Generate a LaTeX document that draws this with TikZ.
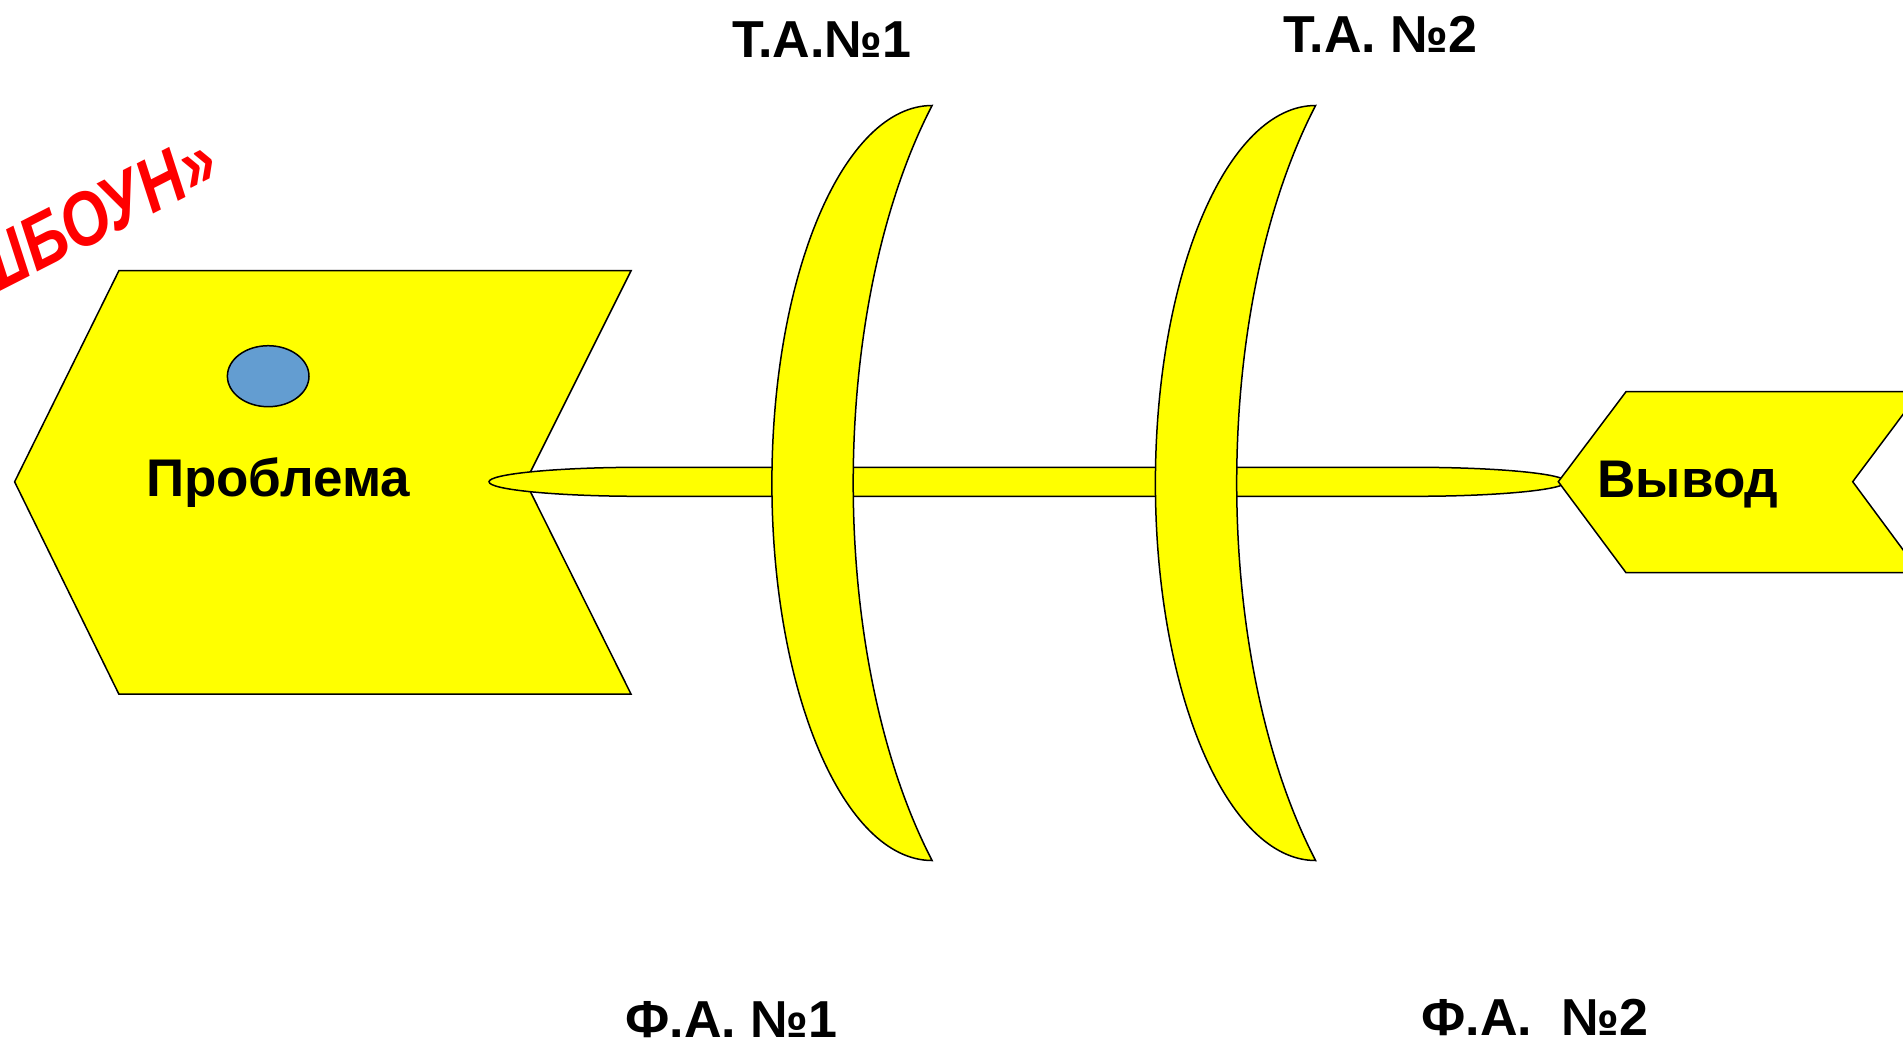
\documentclass[tikz,border=0pt]{standalone}
\usepackage{fontspec}
\setmainfont{Liberation Sans}
\usepackage{graphicx}
\usepackage{tikz}
\usetikzlibrary{positioning}
\definecolor{boneyellow}{RGB}{255,255,0}
\definecolor{eyeblue}{RGB}{99,157,209}
\definecolor{titlered}{RGB}{255,0,0}

\begin{document}
\begin{tikzpicture}[
  x=1pt, y=-1pt,
  bone/.style={draw=black, line width=1.5pt, fill=boneyellow, line join=miter},
  eye/.style={draw=black, line width=1.5pt, fill=eyeblue},
  bigword/.style={font=\fontsize{53}{60}\selectfont\bfseries, anchor=base, inner sep=0pt},
  armlabel/.style={font=\fontsize{52}{60}\selectfont\bfseries, anchor=base, inner sep=0pt},
]
  \useasboundingbox (0,0) rectangle (1903,1042);
  \clip (0,0) rectangle (1903,1042);

  % title, cut by the page edge
  \node[font=\fontsize{62}{70}\selectfont\bfseries\itshape, text=titlered, rotate=27,
        anchor=base east, inner sep=0pt] (title) at (223,178)
        {\scalebox{1}[1.22]{«ФИШБОУН»}};

  % head: the problem
  \draw[bone] (14.6,481.8) -- (118.9,270.7) -- (631.1,270.7) -- (525.5,481.8)
    -- (631.1,694.2) -- (118.9,694.2) -- cycle;
  \draw[eye] (268.2,376.2) ellipse [x radius=40.8, y radius=30.5];
  \node[bigword] (problem) at (278,496) {Проблема};

  % spine
  \draw[bone] (489,481.8) .. controls (489,473.9) and (557,467.3) .. (640,467.3)
    -- (1415,467.3) .. controls (1498,467.3) and (1566,473.9) .. (1566,481.8)
    .. controls (1566,489.7) and (1498,496.3) .. (1415,496.3)
    -- (640,496.3) .. controls (557,496.3) and (489,489.7) .. (489,481.8) -- cycle;

  % ribs
  \foreach \dx in {0,383.5} {
    \begin{scope}[xshift=\dx]
      \draw[bone] (932.1,105.5) .. controls (843.6,105.5) and (771.9,274.5) .. (771.9,483)
        .. controls (771.9,691.5) and (843.6,860.5) .. (932.1,860.5)
        .. controls (881.9,763.9) and (853.2,626.9) .. (853.2,483)
        .. controls (853.2,339.1) and (881.9,202.1) .. (932.1,105.5) -- cycle;
    \end{scope}
  }

  % tail: the conclusion
  \draw[bone] (1558.3,481.7) -- (1626,391.7) -- (1920,391.7) -- (1852.7,481.7)
    -- (1920,572.7) -- (1626,572.7) -- cycle;
  \node[bigword] (result) at (1688,497) {Вывод};

  % rib labels
  \node[armlabel] (ta1) at (821.7,57) {Т.А.№1};
  \node[armlabel] (ta2) at (1380.6,52.2) {Т.А. №2};
  \node[armlabel] (fa1) at (731.3,1037.7) {Ф.А. №1};
  \node[armlabel] (fa2) at (1534.7,1035) {Ф.А.\ \ №2};
\end{tikzpicture}
\end{document}
